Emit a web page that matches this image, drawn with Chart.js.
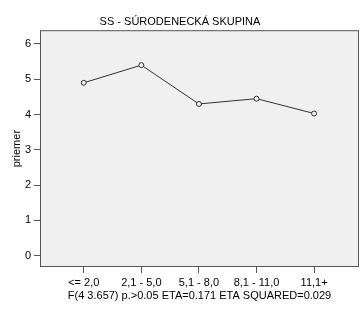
<!DOCTYPE html>
<html>
<head>
<meta charset="utf-8">
<script src="https://cdn.jsdelivr.net/npm/chart.js@4"></script>
<style>
  html, body { margin: 0; padding: 0; background: #fff; }
  #wrap { width: 364px; height: 314px; }
</style>
</head>
<body>
<div id="wrap"><canvas id="meanChart" width="364" height="314"></canvas></div>
<script>
    // Kategórie (počet rokov)
    const categories = ['<= 2,0', '2,1 - 5,0', '5,1 - 8,0', '8,1 - 11,0', '11,1+'];
    // Priemery
    const means = [4.90, 5.40, 4.30, 4.45, 4.03];
    const yTicks = [0, 1, 2, 3, 4, 5, 6];

    const chartTitle = 'SS - SÚRODENECKÁ SKUPINA';
    const xTitle = 'F(4 3.657) p.>0.05 ETA=0.171 ETA SQUARED=0.029';
    const yTitle = 'priemer';

    const fontFamily = "'Liberation Sans', Arial, sans-serif";

    // Sivé pozadie a rámik plochy grafu
    const plotBox = {
        id: 'plotBox',
        beforeDatasetsDraw(chart) {
            const { ctx, chartArea: a } = chart;
            ctx.save();
            ctx.fillStyle = '#f0f0f0';
            ctx.fillRect(a.left, a.top, a.right - a.left, a.bottom - a.top);
            ctx.strokeStyle = '#555';
            ctx.lineWidth = 1;
            ctx.strokeRect(a.left + 0.5, a.top + 0.5, a.right - a.left - 1, a.bottom - a.top - 1);
            ctx.restore();
        }
    };

    const meanConfig = {
        type: 'line',
        data: {
            datasets: [{
                data: means.map((v, i) => ({ x: i, y: v })),
                borderColor: '#333',
                borderWidth: 1,
                pointRadius: 2.5,
                pointBorderWidth: 1,
                pointBorderColor: '#333',
                pointBackgroundColor: '#f0f0f0',
                tension: 0
            }]
        },
        options: {
            responsive: false,
            animation: false,
            layout: { padding: { left: 0, right: 4, top: 0, bottom: 0 } },
            plugins: {
                legend: { display: false },
                tooltip: { enabled: false },
                title: {
                    display: true,
                    text: chartTitle,
                    color: '#000',
                    font: { family: fontFamily, size: 11, weight: 'normal' },
                    padding: { top: 15, bottom: 2 }
                }
            },
            scales: {
                x: {
                    type: 'linear',
                    min: -0.76,
                    max: 4.78,
                    afterBuildTicks: s => { s.ticks = categories.map((c, i) => ({ value: i })); },
                    afterFit: s => { s.height = 47; },
                    ticks: {
                        callback: v => categories[v],
                        color: '#000',
                        font: { family: fontFamily, size: 11 },
                        padding: 3,
                        maxRotation: 0,
                        autoSkip: false
                    },
                    grid: { drawOnChartArea: false, drawTicks: true, tickLength: 6, color: '#555' },
                    border: { display: false },
                    title: {
                        display: true,
                        text: xTitle,
                        color: '#000',
                        font: { family: fontFamily, size: 11 },
                        padding: { top: 0, bottom: 11 }
                    }
                },
                y: {
                    min: -0.32,
                    max: 6.39,
                    afterBuildTicks: s => { s.ticks = yTicks.map(v => ({ value: v })); },
                    afterFit: s => { s.width = 40; },
                    ticks: {
                        color: '#000',
                        font: { family: fontFamily, size: 11 },
                        padding: 3
                    },
                    grid: { drawOnChartArea: false, drawTicks: true, tickLength: 6, color: '#555' },
                    border: { display: false },
                    title: {
                        display: true,
                        text: yTitle,
                        color: '#000',
                        font: { family: fontFamily, size: 11 },
                        padding: { top: 10, bottom: 0 }
                    }
                }
            }
        },
        plugins: [plotBox]
    };

    const ctx = document.getElementById('meanChart').getContext('2d');
    new Chart(ctx, meanConfig);
</script>
</body>
</html>
